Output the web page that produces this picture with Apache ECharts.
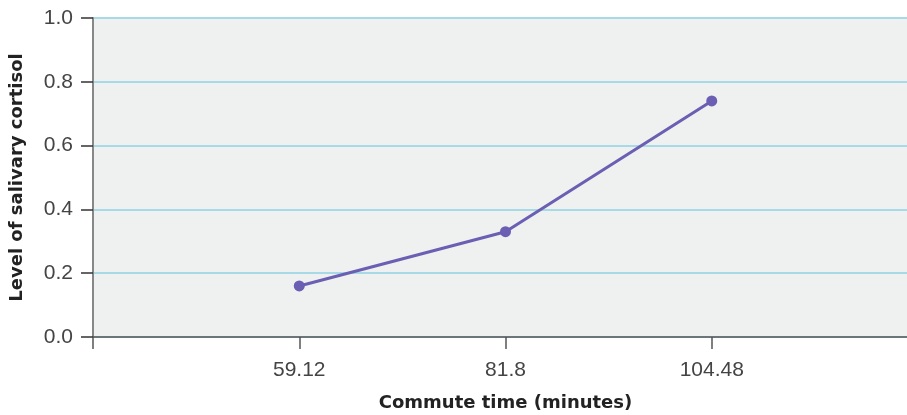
<!DOCTYPE html>
<html><head><meta charset="utf-8">
<script src="https://cdn.jsdelivr.net/npm/echarts@6/dist/echarts.min.js"></script>
<style>html,body{margin:0;padding:0;background:#fff}#c{width:907px;height:415px}</style>
</head><body><div id="c"></div>
<script>
var commuteTimes = [59.12, 81.8, 104.48];
var cortisol = [0.16, 0.33, 0.74];
var xTickLabels = ['59.12', '81.8', '104.48'];
var yTickLabels = ['0.0', '0.2', '0.4', '0.6', '0.8', '1.0'];
var xStep = 22.68;
var xMin = 59.12 - xStep;
var xMax = 104.48 + xStep;

var chart = echarts.init(document.getElementById('c'), null, {renderer: 'canvas'});
chart.setOption({
  animation: false,
  grid: {left: 93, top: 18, width: 825, height: 319, show: true, backgroundColor: '#eff0f0', borderWidth: 0, outerBoundsMode: 'none', containLabel: false},
  xAxis: {
    type: 'value', min: xMin, max: xMax, interval: xStep,
    name: 'Commute time (minutes)', nameLocation: 'middle', nameGap: 57,
    nameTextStyle: {fontFamily: 'DejaVu Sans', fontWeight: 'bold', fontSize: 18, color: '#222'},
    axisLine: {show: true, lineStyle: {color: '#555', width: 1.5}},
    axisTick: {show: true, length: 12, lineStyle: {color: '#555', width: 1.5}},
    axisLabel: {
      margin: 23, fontFamily: 'Liberation Sans', fontSize: 21, color: '#444',
      formatter: function (v) {
        for (var i = 0; i < commuteTimes.length; i++) {
          if (Math.abs(v - commuteTimes[i]) < 1e-6) return xTickLabels[i];
        }
        return '';
      }
    },
    splitLine: {show: false}
  },
  yAxis: {
    type: 'value', min: 0, max: 1, interval: 0.2,
    name: 'Level of salivary cortisol', nameLocation: 'middle', nameGap: 67,
    nameTextStyle: {fontFamily: 'DejaVu Sans', fontWeight: 'bold', fontSize: 18, color: '#222'},
    axisLine: {show: true, lineStyle: {color: '#888', width: 2}},
    axisTick: {show: true, length: 12, lineStyle: {color: '#333', width: 1.5}},
    axisLabel: {
      margin: 20, fontFamily: 'Liberation Sans', fontSize: 21, color: '#444',
      formatter: function (v) { return yTickLabels[Math.round(v / 0.2)]; }
    },
    splitLine: {show: true, lineStyle: {color: '#a8d9e6', width: 2}}
  },
  series: [{
    type: 'line',
    data: commuteTimes.map(function (x, i) { return [x, cortisol[i]]; }),
    symbol: 'circle', symbolSize: 11,
    lineStyle: {color: '#6a5fb2', width: 3},
    itemStyle: {color: '#6a5fb2'}
  }]
});
</script></body></html>
